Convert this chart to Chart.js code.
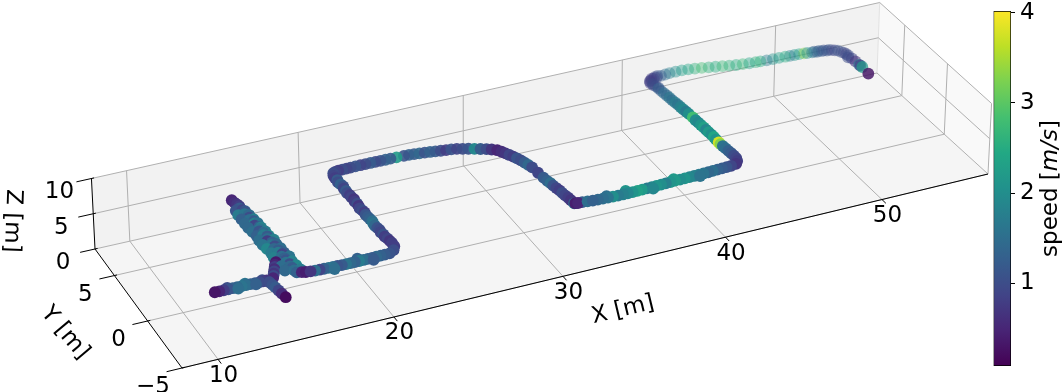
<!DOCTYPE html>
<html>
<head>
<meta charset="utf-8">
<style>
  body { margin: 0; background: #fff; overflow: hidden; }
  canvas { position: absolute; top: 0; }
  #main { left: 0; }
  #colorbar { left: 983px; }
</style>
</head>
<body>
<canvas id="main" width="1063" height="392"></canvas>
<canvas id="colorbar" width="80" height="392"></canvas>
<script src="https://cdn.jsdelivr.net/npm/chart.js@4"></script>
<script>
// Path, in metres. Speed in m/s.
const pathX = [
  53.9, 53.96, 53.94, 53.92, 53.92, 53.9, 53.88, 53.8, 53.6, 53.3,
  53.0, 52.7, 52.4, 52.1, 51.8, 51.6, 51.3, 51.0, 50.7, 50.4,
  50.0, 49.6, 49.2, 48.8, 48.5, 48.1, 47.7, 47.3, 46.9, 46.5,
  46.1, 45.7, 45.3, 44.9, 44.5, 44.1, 43.7, 43.3, 43.0, 42.7,
  42.4, 42.15, 41.95, 41.8,
  41.85, 41.88, 41.9, 41.92, 41.95, 41.98, 42.0, 42.02, 42.05, 42.08,
  42.1, 42.12, 42.15, 42.17, 42.2, 42.2, 42.22, 42.23, 42.25, 42.25,
  42.26, 42.28, 42.28, 42.26, 42.25, 42.26, 42.28, 42.3, 42.32, 42.35,
  42.36, 42.35, 42.25, 42.05,
  41.7, 41.4, 41.1, 40.8, 40.5, 40.2, 39.9, 39.6, 39.3, 39.0,
  38.7, 38.4, 38.1, 37.8, 37.5, 37.2, 36.9, 36.6, 36.3, 36.0,
  35.7, 35.4, 35.1, 34.8, 34.5, 34.2, 33.9, 33.6, 33.3, 33.0,
  32.7, 32.4,
  32.15, 32.0, 31.94, 31.92, 31.9, 31.85, 31.82, 31.8, 31.75, 31.7,
  31.68, 31.62, 31.58, 31.53, 31.48, 31.4, 31.32, 31.23, 31.13, 31.02,
  30.9, 30.78, 30.65, 30.5, 30.25, 30.0, 29.7, 29.4, 29.1, 28.8,
  28.5, 28.2, 27.9, 27.6, 27.3, 27.0, 26.7, 26.4, 26.1, 25.8,
  25.5, 25.06, 24.7, 24.4, 24.1, 23.8, 23.5, 23.2, 22.9, 22.6,
  22.3, 22.05, 21.8, 21.55, 21.35, 21.2,
  21.1, 21.08, 21.12, 21.05, 21.1, 21.15, 21.08, 21.1, 21.06, 21.12,
  21.1, 21.15, 21.08, 21.12, 21.1, 21.05, 21.1, 21.13, 21.08, 21.1,
  21.12, 21.15, 21.1, 21.08, 21.12, 21.15, 21.1, 21.15, 21.12, 21.18,
  21.2, 21.22,
  21.2, 21.0, 20.68, 20.4, 20.15, 19.9, 19.65, 19.4, 19.15, 18.9,
  18.65, 18.4, 18.15, 17.9, 17.65, 17.4, 17.15, 16.9, 16.65, 16.4,
  16.15, 15.9, 15.7,
  15.45, 15.4, 15.4, 15.35, 15.42, 15.3, 15.38, 15.4, 15.32, 15.45,
  15.3, 15.4, 15.25, 15.38, 15.3, 15.4, 15.22, 15.32, 15.4, 15.25,
  15.35, 15.2, 15.3, 15.38, 15.2, 15.28, 15.35, 15.18, 15.25, 15.3,
  15.15, 15.25, 15.2, 15.12, 15.2, 15.15, 15.1, 15.06,
  14.83, 14.7, 14.6, 14.5, 14.4, 14.3, 14.2, 14.1,
  10.8, 11.05, 11.3, 11.55, 11.8, 12.05, 12.3, 12.55, 12.8, 13.05,
  13.3, 13.5, 13.7, 13.77, 13.82, 13.86, 13.9, 13.94, 13.99,
  53.7, 53.45, 53.15, 52.85, 52.55, 52.25, 53.85, 53.75,
  42.3, 42.05, 41.85, 41.75, 41.8, 41.95, 42.5,
  15.75, 14.95, 15.7, 14.95, 15.65, 14.9, 15.7, 14.9, 15.6, 14.95,
  15.6, 14.9, 15.55, 14.85, 15.6, 14.85, 15.5, 14.9, 15.5, 14.85,
  15.45, 14.8, 15.45, 14.8, 15.4, 14.8, 15.35, 14.8, 15.3, 14.85,
  35.1, 36.6, 38.1, 39.6, 33.9, 18.9, 17.4, 19.65,
  11.55, 12.05, 12.55, 13.05, 13.5
];
const pathY = [
  3.72, 4.55, 4.75, 4.85, 5.3, 5.7, 6.1, 6.5, 6.85, 7.05,
  7.12, 7.18, 7.22, 7.28, 7.33, 7.36, 7.4, 7.42, 7.44, 7.46,
  7.48, 7.5, 7.52, 7.55, 7.58, 7.62, 7.68, 7.75, 7.85, 7.95,
  8.05, 8.15, 8.25, 8.35, 8.42, 8.46, 8.47, 8.46, 8.42, 8.38,
  8.32, 8.25, 8.15, 8.0,
  7.7, 7.4, 7.1, 6.8, 6.5, 6.2, 5.9, 5.6, 5.3, 5.0,
  4.7, 4.4, 4.1, 3.8, 3.35, 3.0, 2.7, 2.4, 2.1, 1.8,
  1.5, 1.2, 0.9, 0.6, 0.25, 0.05, -0.2, -0.5, -0.8, -1.1,
  -1.4, -1.7, -2.0, -2.25,
  -2.32, -2.34, -2.36, -2.38, -2.4, -2.42, -2.43, -2.45, -2.46, -2.47,
  -2.48, -2.49, -2.48, -2.5, -2.52, -2.54, -2.55, -2.57, -2.58, -2.6,
  -2.6, -2.62, -2.62, -2.62, -2.62, -2.6, -2.58, -2.56, -2.54, -2.52,
  -2.48, -2.44,
  -2.42, -2.38, -2.37, -2.0, -1.7, -1.4, -1.1, -0.8, -0.5, -0.2,
  0.1, 0.4, 0.8, 1.4, 2.06, 2.4, 2.7, 3.0, 3.3, 3.55,
  3.8, 4.05, 4.3, 4.55, 4.75, 4.9, 5.05, 5.2, 5.35, 5.48,
  5.6, 5.68, 5.72, 5.78, 5.84, 5.9, 5.95, 6.0, 6.05, 6.08,
  6.1, 6.12, 6.13, 6.13, 6.14, 6.14, 6.15, 6.15, 6.15, 6.15,
  6.14, 6.13, 6.12, 6.1, 6.05, 5.97,
  5.7, 5.45, 5.2, 4.95, 4.7, 4.45, 4.2, 3.95, 3.7, 3.45,
  3.2, 2.95, 2.7, 2.45, 2.2, 1.95, 1.7, 1.45, 1.2, 0.95,
  0.7, 0.45, 0.2, -0.05, -0.3, -0.55, -0.8, -1.05, -1.3, -1.55,
  -1.8, -2.05,
  -2.4, -2.75, -2.96, -2.97, -2.98, -2.98, -2.99, -3.0, -3.0, -3.0,
  -3.0, -3.0, -3.0, -3.0, -2.98, -2.98, -2.96, -2.95, -2.94, -2.92,
  -2.9, -2.85, -2.78,
  -2.68, -2.45, -2.2, -2.0, -1.78, -1.56, -1.34, -1.12, -0.9, -0.68,
  -0.46, -0.24, -0.02, 0.2, 0.42, 0.64, 0.86, 1.08, 1.3, 1.52,
  1.74, 1.96, 2.18, 2.4, 2.62, 2.84, 3.06, 3.28, 3.5, 3.72,
  3.94, 4.16, 4.38, 4.6, 4.82, 5.04, 5.26, 5.57,
  -1.3, -1.5, -1.7, -1.9, -2.1, -2.3, -2.5, -2.7,
  -2.73, -2.74, -2.74, -2.75, -2.75, -2.75, -2.76, -2.76, -2.77, -2.77,
  -2.78, -2.78, -2.78, -3.0, -3.3, -3.6, -3.95, -4.3, -4.71,
  6.6, 6.95, 7.15, 7.22, 7.28, 7.3, 6.3, 5.9,
  8.4, 8.3, 8.1, 7.85, 7.6, 7.2, 8.45,
  -2.5, -2.26, -2.02, -1.78, -1.54, -1.3, -1.06, -0.82, -0.58, -0.34,
  -0.1, 0.14, 0.38, 0.62, 0.86, 1.1, 1.34, 1.58, 1.82, 2.06,
  2.3, 2.54, 2.78, 3.02, 3.26, 3.5, 3.74, 3.98, 4.22, 4.46,
  -2.35, -2.75, -2.3, -2.6, -2.4, -2.75, -3.2, -3.2,
  -2.6, -2.9, -2.6, -2.9, -2.65
];
const pathSpeed = [
  0.3, 2.2, 0.8, 1.6, 0.7, 0.9, 1.0, 1.0, 1.1, 1.0,
  1.1, 1.2, 1.3, 1.7, 2.0, 3.3, 2.4, 2.1, 1.7, 2.5,
  2.3, 2.1, 1.7, 2.5, 2.6, 2.4, 2.7, 2.5, 2.6, 2.7,
  2.5, 2.6, 2.8, 2.6, 2.4, 2.3, 2.0, 1.8, 1.5, 1.2,
  1.0, 0.9, 0.8, 0.85,
  1.1, 1.0, 1.3, 1.2, 1.5, 1.4, 1.6, 1.5, 1.7, 1.6,
  1.8, 1.9, 1.7, 2.0, 2.8, 2.0, 1.9, 2.1, 2.3, 1.9,
  2.2, 2.0, 2.4, 2.1, 3.75, 3.3, 1.6, 1.5, 1.3, 1.2,
  1.0, 0.9, 0.8, 0.7,
  0.9, 1.1, 1.2, 1.3, 1.5, 1.4, 1.6, 1.7, 1.8, 1.9,
  2.1, 2.0, 2.2, 2.1, 1.8, 2.0, 2.1, 1.9, 1.7, 2.2,
  2.3, 2.1, 1.9, 1.8, 1.7, 2.0, 1.6, 1.5, 1.4, 1.3,
  1.5, 1.2,
  0.5, 0.4, 1.6, 0.7, 0.8, 0.9, 1.0, 0.8, 0.9, 1.1,
  1.5, 1.3, 1.2, 0.9, 1.0, 1.4, 1.2, 1.0, 1.1, 0.8,
  0.9, 0.7, 0.6, 0.5, 0.7, 1.0, 1.2, 1.9, 1.1, 1.0,
  0.9, 1.1, 0.8, 1.0, 1.2, 1.3, 1.1, 1.4, 1.2, 1.3,
  1.1, 2.2, 1.2, 1.3, 1.1, 1.0, 1.2, 1.0, 0.9, 1.1,
  1.0, 0.9, 1.0, 0.8, 0.9, 1.0,
  0.9, 0.8, 1.2, 1.0, 1.3, 1.1, 0.9, 1.2, 1.0, 0.8,
  0.9, 0.7, 0.8, 1.0, 0.7, 0.9, 1.0, 0.8, 1.1, 1.2,
  1.3, 1.5, 1.6, 1.4, 1.1, 1.0, 0.9, 1.1, 0.8, 0.9,
  0.7, 0.8,
  0.8, 1.0, 1.1, 1.2, 1.3, 1.4, 1.2, 1.3, 1.5, 1.7,
  1.3, 1.4, 1.6, 1.2, 1.1, 1.5, 1.6, 1.3, 0.9, 1.5,
  0.7, 0.4, 0.5,
  1.3, 1.5, 1.2, 1.4, 1.0, 1.6, 1.1, 1.3, 1.5, 0.9,
  1.7, 1.2, 1.4, 1.0, 1.6, 1.3, 0.8, 1.5, 1.2, 1.7,
  1.4, 1.1, 1.6, 1.3, 0.9, 1.8, 1.2, 1.5, 1.0, 1.4,
  1.6, 1.1, 0.9, 1.2, 0.8, 0.7, 0.6, 0.5,
  0.35, 0.5, 0.8, 0.6, 0.9, 0.7, 1.0, 0.5,
  0.3, 0.5, 0.8, 1.1, 1.3, 1.4, 1.6, 1.5, 1.3, 1.2,
  1.0, 0.8, 0.7, 1.0, 1.1, 1.2, 0.9, 0.6, 0.2,
  1.0, 0.9, 1.1, 1.0, 1.2, 1.1, 0.9, 1.0,
  0.9, 0.8, 0.75, 0.8, 0.9, 1.0, 1.1,
  1.7, 1.4, 1.9, 1.5, 1.8, 1.4, 1.6, 1.8, 1.3, 1.7,
  1.5, 1.9, 1.4, 1.6, 1.8, 1.5, 1.9, 1.3, 1.7, 1.5,
  1.8, 1.4, 1.6, 1.4, 1.8, 1.3, 1.5, 1.7, 1.3, 1.1,
  2.1, 1.9, 2.2, 1.6, 1.5, 1.3, 1.5, 1.2,
  1.0, 1.5, 1.6, 1.3, 1.0
];
const pathHeight = 6;

const xTicks = [10, 20, 30, 40, 50];
const yTicks = [-5, 0, 5];
const zTicks = [0, 5, 10];
const speedTicks = [1, 2, 3, 4];
const speedMin = 0.08;
const speedMax = 4.02;

const xLim = [8.0, 57.0];
const yLim = [-5, 8];
const zLim = [0, 10];

const viridis = ['#440154', '#482475', '#414487', '#355f8d', '#2a788e', '#21918c', '#22a884', '#44bf70', '#7ad151', '#bddf26', '#fde725'];

const fontName = '"DejaVu Sans"';
const fontSize = 23;
const gridColor = '#b0b0b0';

// Camera: where the four floor corners land on the page, floor to screen homography from those
const cornerA = [182, 368], cornerB = [988, 174], cornerC = [877, 73], cornerD = [95, 249];

function makeCamera() {
  const dx1 = cornerB[0] - cornerC[0], dx2 = cornerD[0] - cornerC[0];
  const dy1 = cornerB[1] - cornerC[1], dy2 = cornerD[1] - cornerC[1];
  const sx = cornerA[0] - cornerB[0] + cornerC[0] - cornerD[0];
  const sy = cornerA[1] - cornerB[1] + cornerC[1] - cornerD[1];
  const det = dx1 * dy2 - dx2 * dy1;
  const g = (sx * dy2 - dx2 * sy) / det;
  const h = (dx1 * sy - sx * dy1) / det;
  return {
    g, h,
    a: cornerB[0] - cornerA[0] + g * cornerB[0],
    b: cornerD[0] - cornerA[0] + h * cornerD[0],
    c: cornerA[0],
    d: cornerB[1] - cornerA[1] + g * cornerB[1],
    e: cornerD[1] - cornerA[1] + h * cornerD[1],
    f: cornerA[1]
  };
}
const cam = makeCamera();

function project(X, Y, Z) {
  const u = (X - xLim[0]) / (xLim[1] - xLim[0]);
  const v = (Y - yLim[0]) / (yLim[1] - yLim[0]);
  const w = cam.g * u + cam.h * v + 1;
  const px = (cam.a * u + cam.b * v + cam.c) / w;
  const py = (cam.d * u + cam.e * v + cam.f) / w;
  return { x: px + Z * (px - 540) * 0.0008, y: py - Z * 7.05 };
}

function viridisRgb(t) {
  const pos = Math.max(0, Math.min(1, t)) * (viridis.length - 1);
  const i = Math.min(Math.floor(pos), viridis.length - 2);
  const f = pos - i;
  const c0 = parseInt(viridis[i].slice(1), 16), c1 = parseInt(viridis[i + 1].slice(1), 16);
  return [16, 8, 0].map(s => Math.round(((c0 >> s) & 255) * (1 - f) + ((c1 >> s) & 255) * f));
}

// mplot3d style depth shading, far points fade out
function depthOf(i) {
  return pathY[i] + 0.1 * pathX[i];
}

function pointColor(i) {
  const rgb = viridisRgb((pathSpeed[i] - speedMin) / (speedMax - speedMin));
  const alpha = Math.max(0.42, Math.min(1, 1 - (depthOf(i) - 8) * 0.15));
  return `rgba(${rgb[0]},${rgb[1]},${rgb[2]},${alpha})`;
}

function lineSet(points, color, width, order) {
  return {
    type: 'scatter', data: points, showLine: true, borderColor: color, borderWidth: width,
    pointRadius: 0, fill: false, order: order
  };
}

function paneSet(points, color) {
  return {
    type: 'scatter', data: points, showLine: true, borderWidth: 0, borderColor: color,
    backgroundColor: color, pointRadius: 0, fill: 'shape', order: 5
  };
}

function buildDatasets() {
  const [x0, x1] = xLim, [y0, y1] = yLim, [z0, z1] = zLim;
  const sets = [];

  // panes
  sets.push(paneSet([project(x0, y0, z0), project(x1, y0, z0), project(x1, y1, z0), project(x0, y1, z0), project(x0, y0, z0)], '#f5f5f5'));
  sets.push(paneSet([project(x0, y1, z0), project(x1, y1, z0), project(x1, y1, z1), project(x0, y1, z1), project(x0, y1, z0)], '#f2f2f2'));
  sets.push(paneSet([project(x1, y1, z0), project(x1, y0, z0), project(x1, y0, z1), project(x1, y1, z1), project(x1, y1, z0)], '#f9f9f9'));
  sets.push(lineSet([project(x1, y1, z0), project(x1, y1, z1)], '#e2e2e2', 1, 4));

  // grid lines
  xTicks.forEach(t => {
    sets.push(lineSet([project(t, y0, z0), project(t, y1, z0), project(t, y1, z1)], gridColor, 1, 3));
  });
  yTicks.forEach(t => {
    sets.push(lineSet([project(x0, t, z0), project(x1, t, z0), project(x1, t, z1)], gridColor, 1, 3));
  });
  zTicks.forEach(t => {
    sets.push(lineSet([project(x0, y1, t), project(x1, y1, t), project(x1, y0, t)], gridColor, 1, 3));
  });

  // axes and tick marks
  sets.push(lineSet([project(x0, y0, z0), project(x1, y0, z0)], '#000', 1, 2));
  sets.push(lineSet([project(x0, y0, z0), project(x0, y1, z0), project(x0, y1, z1)], '#000', 1, 2));
  xTicks.forEach(t => {
    sets.push(lineSet([project(t, y0, z0), project(t, y0 - 0.45, z0)], '#000', 1, 2));
  });
  yTicks.forEach(t => {
    sets.push(lineSet([project(x0 + 0.15, t, z0), project(x0 - 0.85, t, z0)], '#000', 1, 2));
  });
  zTicks.forEach(t => {
    sets.push(lineSet([project(x0 + 0.15, y1, t), project(x0 - 0.85, y1, t)], '#000', 1, 2));
  });

  // the path, far points first so near ones land on top
  const drawOrder = pathX.map((_, i) => i).sort((a, b) => depthOf(b) - depthOf(a));
  sets.push({
    type: 'scatter',
    data: drawOrder.map(i => project(pathX[i], pathY[i], pathHeight)),
    pointBackgroundColor: drawOrder.map(pointColor),
    pointBorderWidth: 0,
    pointRadius: 5.9,
    order: 0
  });
  return sets;
}

function drawRotated(ctx, text, x, y, degrees) {
  ctx.save();
  ctx.translate(x, y);
  ctx.rotate(degrees * Math.PI / 180);
  ctx.fillText(text, 0, 0);
  ctx.restore();
}

const axisText = {
  id: 'axisText',
  afterDraw(chart) {
    const ctx = chart.ctx;
    const sx = chart.scales.x, sy = chart.scales.y;
    const at = (p, dx, dy) => [sx.getPixelForValue(p.x) + dx, sy.getPixelForValue(p.y) + dy];
    ctx.save();
    ctx.font = fontSize + 'px ' + fontName;
    ctx.fillStyle = '#000';
    ctx.textAlign = 'center';
    ctx.textBaseline = 'middle';
    xTicks.forEach(t => {
      const [px, py] = at(project(t, yLim[0], 0), 5.5, 16.5);
      ctx.fillText(String(t), px, py);
    });
    yTicks.forEach(t => {
      const [px, py] = at(project(xLim[0], t, 0), -29, 19);
      ctx.fillText(String(t).replace('-', '\u2212'), px, py);
    });
    zTicks.forEach(t => {
      const [px, py] = at(project(xLim[0], yLim[1], t), -32, 14);
      ctx.fillText(String(t), px, py);
    });
    drawRotated(ctx, 'X [m]', 623, 310, -13.5);
    drawRotated(ctx, 'Y [m]', 65, 333, 50);
    drawRotated(ctx, 'Z [m]', 12, 221, 92);
    ctx.restore();
  }
};

new Chart(document.getElementById('main').getContext('2d'), {
  type: 'scatter',
  data: { datasets: buildDatasets() },
  plugins: [axisText],
  options: {
    responsive: false,
    animation: false,
    layout: { padding: 0, autoPadding: false },
    plugins: { legend: { display: false }, tooltip: { enabled: false }, title: { display: false } },
    scales: {
      x: { type: 'linear', min: 0, max: 1063, display: false },
      y: { type: 'linear', min: 0, max: 392, reverse: true, display: false }
    }
  }
});

function barGradient(context) {
  const area = context.chart.chartArea;
  if (!area) return '#000';
  const grad = context.chart.ctx.createLinearGradient(0, area.bottom, 0, area.top);
  viridis.forEach((c, i) => grad.addColorStop(i / (viridis.length - 1), c));
  return grad;
}

// speed label has an italic part, so it is set piece by piece
const speedTitle = {
  id: 'speedTitle',
  afterDraw(chart) {
    const ctx = chart.ctx;
    const pieces = [['speed [', 'normal'], ['m/s', 'oblique'], [']', 'normal']];
    ctx.save();
    ctx.translate(68, 188.5);
    ctx.rotate(-Math.PI / 2);
    ctx.fillStyle = '#000';
    ctx.textBaseline = 'middle';
    ctx.textAlign = 'left';
    const widths = pieces.map(([t, style]) => {
      ctx.font = `${style} ${fontSize}px ${fontName}`;
      return ctx.measureText(t).width;
    });
    let x = -widths.reduce((a, b) => a + b, 0) / 2;
    pieces.forEach(([t, style], i) => {
      ctx.font = `${style} ${fontSize}px ${fontName}`;
      ctx.fillText(t, x, 0);
      x += widths[i];
    });
    ctx.restore();
  }
};

new Chart(document.getElementById('colorbar').getContext('2d'), {
  type: 'bar',
  data: {
    labels: ['speed'],
    datasets: [{
      data: [[speedMin, speedMax]],
      backgroundColor: barGradient,
      borderColor: '#000',
      borderWidth: 1,
      borderSkipped: false,
      barPercentage: 1,
      categoryPercentage: 1
    }]
  },
  plugins: [speedTitle],
  options: {
    responsive: false,
    animation: false,
    layout: { padding: { left: 10.5, top: 11, bottom: 26, right: 0 }, autoPadding: false },
    plugins: { legend: { display: false }, tooltip: { enabled: false } },
    scales: {
      x: { display: false },
      y: {
        position: 'right',
        min: speedMin,
        max: speedMax,
        afterBuildTicks: scale => { scale.ticks = speedTicks.map(v => ({ value: v })); },
        afterFit: scale => {
          scale.width = 52;
          // the 4 label hangs over the top of the bar, keep the bar height anyway
          scale.paddingTop = 0;
          scale.paddingBottom = 0;
        },
        border: { display: false },
        grid: { drawOnChartArea: false, drawTicks: true, tickLength: 4, color: '#000', tickColor: '#000' },
        ticks: { color: '#000', font: { family: 'DejaVu Sans', size: fontSize }, padding: 5, maxRotation: 0 }
      }
    }
  }
});
</script>
</body>
</html>
